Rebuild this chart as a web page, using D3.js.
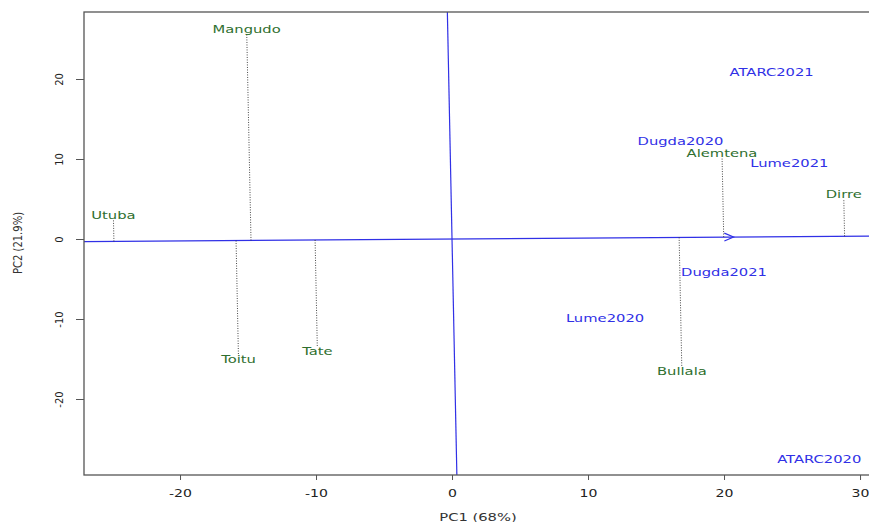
<!DOCTYPE html>
<html>
<head>
<meta charset="utf-8">
<script src="https://cdn.jsdelivr.net/npm/d3@7"></script>
<style>
  body { margin: 0; background: #fff; }
  text { font-family: "DejaVu Sans", sans-serif; }
</style>
</head>
<body>
<div id="chart"></div>
<script>
"use strict";

// genotypes (green) and environments (blue), PC1 / PC2 scores
const genotypes = ["Mangudo", "Utuba", "Toitu", "Tate", "Alemtena", "Dirre", "Bullala"];
const genoPC1 = [-15.1, -24.9, -15.7, -9.9, 19.85, 28.8, 16.9];
const genoPC2 = [26.25, 3.0, -15.0, -14.0, 10.75, 5.6, -16.5];

const environments = ["ATARC2021", "Dugda2020", "Lume2021", "Dugda2021", "Lume2020", "ATARC2020"];
const envPC1 = [23.5, 16.8, 24.8, 20.0, 11.25, 27.0];
const envPC2 = [20.9, 12.25, 9.5, -4.1, -9.9, -27.5];

// average environment coordinate (arrow of the ATC abscissa)
const avgEnv = [20.7, 0.25];

const xTicks = [-20, -10, 0, 10, 20, 30];
const yTicks = [-20, -10, 0, 10, 20];
const xTitle = "PC1 (68%)";
const yTitle = "PC2 (21.9%)";

const W = 869, H = 522;
const LEFT = 84, RIGHT = 872, TOP = 12, BOTTOM = 475;
const SX = 1.34;           // the picture is stretched horizontally
const BLUE = "#3030e6";
const GREEN = "#2f6f2f";

const svg = d3.select("#chart").append("svg")
    .attr("width", W)
    .attr("height", H);

const x = d3.scaleLinear().domain([-27.06, 30.88]).range([LEFT, RIGHT]);
const y = d3.scaleLinear().domain([-29.5, 28.375]).range([BOTTOM, TOP]);

svg.append("clipPath").attr("id", "plot-clip")
    .append("rect")
    .attr("x", LEFT).attr("y", TOP)
    .attr("width", RIGHT - LEFT).attr("height", BOTTOM - TOP);

const plot = svg.append("g").attr("clip-path", "url(#plot-clip)");

// ATC abscissa through origin and average environment, ordinate perpendicular
const [ax, ay] = avgEnv;
const len2 = ax * ax + ay * ay;
const far = 200;
plot.append("line")
    .attr("x1", x(-far * ax / Math.sqrt(len2))).attr("y1", y(-far * ay / Math.sqrt(len2)))
    .attr("x2", x(far * ax / Math.sqrt(len2))).attr("y2", y(far * ay / Math.sqrt(len2)))
    .attr("stroke", BLUE).attr("stroke-width", 1.2);
plot.append("line")
    .attr("x1", x(far * ay / Math.sqrt(len2))).attr("y1", y(-far * ax / Math.sqrt(len2)))
    .attr("x2", x(-far * ay / Math.sqrt(len2))).attr("y2", y(far * ax / Math.sqrt(len2)))
    .attr("stroke", BLUE).attr("stroke-width", 1.2);

// arrow head at the average environment
{
    const tx = x(ax), ty = y(ay);
    const ang = Math.atan2(ty - y(0), tx - x(0));
    const L = 10, a = 0.4;
    const p1 = [tx - L * Math.cos(ang - a), ty - L * Math.sin(ang - a)];
    const p2 = [tx - L * Math.cos(ang + a), ty - L * Math.sin(ang + a)];
    plot.append("path")
        .attr("d", `M${p1[0]},${p1[1]}L${tx},${ty}L${p2[0]},${p2[1]}`)
        .attr("fill", "none").attr("stroke", BLUE).attr("stroke-width", 1.2);
}

// projections of genotypes onto the ATC abscissa
const geno = genotypes.map((g, i) => ({ name: g, pc1: genoPC1[i], pc2: genoPC2[i] }));
geno.forEach(d => {
    const t = (d.pc1 * ax + d.pc2 * ay) / len2;
    const px = x(t * ax), py = y(t * ay);
    const gx = x(d.pc1), gy = y(d.pc2);
    const dist = Math.hypot(gx - px, gy - py);
    const gap = 5;
    plot.append("line")
        .attr("x1", px).attr("y1", py)
        .attr("x2", gx - (gx - px) / dist * gap)
        .attr("y2", gy - (gy - py) / dist * gap)
        .attr("stroke", "#333")
        .attr("stroke-width", 0.9)
        .attr("stroke-dasharray", "1,1.5");
});

function label(g, d, color) {
    g.append("text")
        .attr("transform", `translate(${x(d.pc1)},${y(d.pc2)}) scale(${SX},1)`)
        .attr("text-anchor", "middle")
        .attr("dy", "0.36em")
        .attr("font-size", 11)
        .attr("fill", color)
        .text(d.name);
}

geno.forEach(d => label(plot, d, GREEN));
environments.forEach((e, i) => label(plot, { name: e, pc1: envPC1[i], pc2: envPC2[i] }, BLUE));

// frame
svg.append("rect")
    .attr("x", LEFT).attr("y", TOP)
    .attr("width", RIGHT - LEFT).attr("height", BOTTOM - TOP)
    .attr("fill", "none")
    .attr("stroke", "#555")
    .attr("stroke-width", 1.3);

// axes
const xaxis = svg.append("g")
    .attr("transform", `translate(0,${BOTTOM})`)
    .call(d3.axisBottom(x).tickValues(xTicks).tickSize(5).tickFormat(d => String(d)));
xaxis.select(".domain").remove();
xaxis.selectAll("line").attr("stroke", "#555");
xaxis.selectAll("text")
    .attr("y", 0).attr("dy", "0.36em")
    .attr("transform", `translate(0,18) scale(${SX},1)`)
    .attr("font-size", 10.5)
    .attr("font-family", "DejaVu Sans")
    .attr("fill", "#222");

const yaxis = svg.append("g")
    .attr("transform", `translate(${LEFT},0)`)
    .call(d3.axisLeft(y).tickValues(yTicks).tickSize(8).tickFormat(d => String(d)));
yaxis.select(".domain").remove();
yaxis.selectAll("line").attr("stroke", "#555");
yaxis.selectAll("text")
    .attr("x", 0).attr("y", 0).attr("dy", "0.36em")
    .attr("text-anchor", "middle")
    .attr("transform", `translate(-25,0) scale(1.1,1) rotate(-90)`)
    .attr("font-size", 10)
    .attr("font-family", "DejaVu Sans")
    .attr("fill", "#222");

// axis titles
svg.append("text")
    .attr("transform", `translate(${(LEFT + RIGHT) / 2},517) scale(${SX},1)`)
    .attr("text-anchor", "middle")
    .attr("dy", "0.36em")
    .attr("font-size", 11)
    .attr("fill", "#333")
    .text(xTitle);

svg.append("text")
    .attr("transform", `translate(18,243) scale(1.2,1) rotate(-90)`)
    .attr("text-anchor", "middle")
    .attr("dy", "0.36em")
    .attr("font-size", 10)
    .attr("fill", "#333")
    .text(yTitle);
</script>
</body>
</html>
